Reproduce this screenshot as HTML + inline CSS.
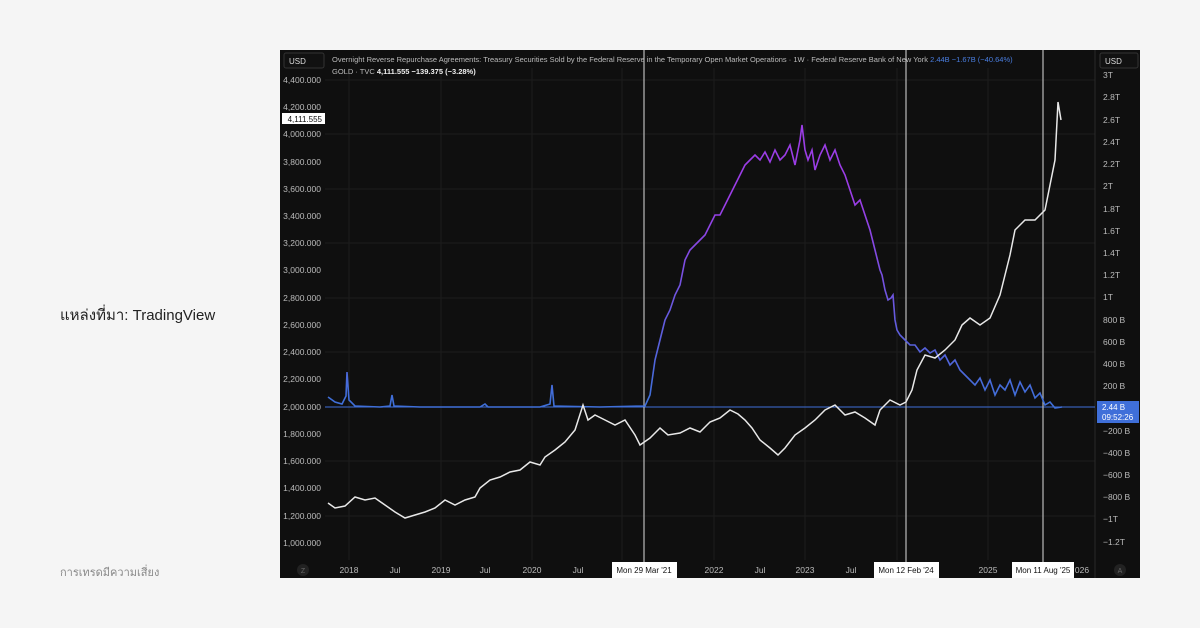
<!DOCTYPE html>
<html><head><meta charset="utf-8"><style>
body{margin:0;width:1200px;height:628px;background:#f5f5f5;font-family:"Liberation Sans","Noto Sans CJK SC",sans-serif;overflow:hidden;position:relative}
.t1{position:absolute;left:60px;top:303px;font-size:15px;color:#222}
.t2{position:absolute;left:60px;top:563px;font-size:11px;color:#888}
svg{position:absolute;left:280px;top:50px}
</style></head><body>
<div class="t1">แหล่งที่มา: TradingView</div>
<div class="t2">การเทรดมีความเสี่ยง</div>
<svg width="860" height="528" viewBox="280 50 860 528" font-family="Liberation Sans, sans-serif">
<defs><linearGradient id="g" gradientUnits="userSpaceOnUse" x1="0" y1="400" x2="0" y2="200"><stop offset="0" stop-color="#3f6fd9"/><stop offset="1" stop-color="#9b3de6"/></linearGradient></defs>
<rect x="280" y="50" width="860" height="528" fill="#0f0f0f"/>
<g stroke="#1c1c1c" stroke-width="1">
<line x1="349" y1="68" x2="349" y2="560"/><line x1="441" y1="68" x2="441" y2="560"/><line x1="532" y1="68" x2="532" y2="560"/><line x1="622" y1="68" x2="622" y2="560"/><line x1="714" y1="68" x2="714" y2="560"/><line x1="805" y1="68" x2="805" y2="560"/><line x1="897" y1="68" x2="897" y2="560"/><line x1="988" y1="68" x2="988" y2="560"/>
<line x1="325" y1="80" x2="1095" y2="80"/><line x1="325" y1="134" x2="1095" y2="134"/><line x1="325" y1="189" x2="1095" y2="189"/><line x1="325" y1="243" x2="1095" y2="243"/><line x1="325" y1="298" x2="1095" y2="298"/><line x1="325" y1="352" x2="1095" y2="352"/><line x1="325" y1="461" x2="1095" y2="461"/><line x1="325" y1="516" x2="1095" y2="516"/>
</g>
<line x1="1095" y1="50" x2="1095" y2="578" stroke="#2a2a2a"/>
<line x1="325" y1="407" x2="1095" y2="407" stroke="#3f6fd9" stroke-width="1"/>
<g stroke="#bbb" stroke-width="1.2"><line x1="644" y1="50" x2="644" y2="562"/><line x1="906" y1="50" x2="906" y2="562"/><line x1="1043" y1="50" x2="1043" y2="562"/></g>
<polyline fill="none" stroke="url(#g)" stroke-width="1.6" points="328,397 335,402 342,404 346,396 347,372 349,400 355,406 380,407 390,406 392,395 394,406 420,407 480,407 485,404 488,407 540,407 550,404 552,385 554,406 600,407 645,406 650,395 655,360 660,340 665,320 670,310 675,295 680,285 685,260 690,250 695,245 700,240 705,235 710,225 715,215 720,215 725,205 730,195 735,185 740,175 745,165 750,160 755,155 760,160 765,152 770,162 775,150 780,160 785,155 790,145 795,165 800,140 802,125 805,150 808,160 812,150 815,170 820,155 825,145 830,160 835,150 840,165 845,175 850,190 855,205 860,200 865,215 870,230 875,250 880,270 882,275 885,290 888,300 891,298 893,295 895,320 897,330 900,335 905,340 910,345 915,345 920,352 925,348 930,353 935,350 940,360 945,355 950,365 955,360 960,370 965,375 970,380 975,385 980,378 985,390 990,380 995,395 1000,385 1005,390 1010,380 1015,395 1020,382 1025,392 1030,385 1035,398 1040,393 1045,405 1050,402 1055,408 1062,407"/>
<polyline fill="none" stroke="#e8e8e8" stroke-width="1.5" points="328,503 335,508 345,506 355,497 365,500 375,498 385,505 395,512 405,518 415,515 425,512 435,508 445,500 455,505 465,500 475,497 480,488 490,480 500,477 510,472 520,470 530,462 540,465 545,457 555,450 565,442 575,430 583,405 588,420 595,415 605,420 615,425 625,420 635,435 640,445 650,438 660,428 668,435 680,433 690,428 700,432 710,422 720,418 730,410 738,414 745,420 752,428 760,440 770,448 778,455 785,448 795,435 805,428 815,420 825,410 835,405 845,415 855,412 865,418 875,425 880,410 890,400 900,405 906,402 912,390 917,370 925,355 935,358 945,350 955,340 962,325 970,318 980,325 990,318 1000,295 1010,255 1015,230 1025,220 1035,220 1045,210 1050,185 1055,160 1058,102 1061,120"/>
<g fill="#bbb" font-size="8.5" text-anchor="end">
<text x="321" y="83">4,400.000</text><text x="321" y="110">4,200.000</text><text x="321" y="137">4,000.000</text><text x="321" y="165">3,800.000</text><text x="321" y="192">3,600.000</text><text x="321" y="219">3,400.000</text><text x="321" y="246">3,200.000</text><text x="321" y="273">3,000.000</text><text x="321" y="301">2,800.000</text><text x="321" y="328">2,600.000</text><text x="321" y="355">2,400.000</text><text x="321" y="382">2,200.000</text><text x="321" y="410">2,000.000</text><text x="321" y="437">1,800.000</text><text x="321" y="464">1,600.000</text><text x="321" y="491">1,400.000</text><text x="321" y="519">1,200.000</text><text x="321" y="546">1,000.000</text>
</g>
<g fill="#bbb" font-size="8.5">
<text x="1103" y="78">3T</text><text x="1103" y="100">2.8T</text><text x="1103" y="123">2.6T</text><text x="1103" y="145">2.4T</text><text x="1103" y="167">2.2T</text><text x="1103" y="189">2T</text><text x="1103" y="212">1.8T</text><text x="1103" y="234">1.6T</text><text x="1103" y="256">1.4T</text><text x="1103" y="278">1.2T</text><text x="1103" y="300">1T</text><text x="1103" y="323">800 B</text><text x="1103" y="345">600 B</text><text x="1103" y="367">400 B</text><text x="1103" y="389">200 B</text><text x="1103" y="434">−200 B</text><text x="1103" y="456">−400 B</text><text x="1103" y="478">−600 B</text><text x="1103" y="500">−800 B</text><text x="1103" y="522">−1T</text><text x="1103" y="545">−1.2T</text>
</g>
<g fill="#bbb" font-size="8.5" text-anchor="middle">
<text x="349" y="573">2018</text><text x="395" y="573">Jul</text><text x="441" y="573">2019</text><text x="485" y="573">Jul</text><text x="532" y="573">2020</text><text x="578" y="573">Jul</text><text x="714" y="573">2022</text><text x="760" y="573">Jul</text><text x="805" y="573">2023</text><text x="851" y="573">Jul</text><text x="988" y="573">2025</text><text x="1082" y="573">026</text>
</g>
<circle cx="303" cy="570" r="6" fill="#222"/><text x="303" y="573" fill="#666" font-size="7" text-anchor="middle">Z</text>
<circle cx="1120" cy="570" r="6" fill="#222"/><text x="1120" y="573" fill="#666" font-size="7" text-anchor="middle">A</text>
<g font-size="8" text-anchor="middle"><rect x="612" y="562" width="65" height="16" fill="#fff"/><text x="644" y="573" fill="#111">Mon 29 Mar '21</text>
<rect x="874" y="562" width="65" height="16" fill="#fff"/><text x="906" y="573" fill="#111">Mon 12 Feb '24</text>
<rect x="1012" y="562" width="62" height="16" fill="#fff"/><text x="1043" y="573" fill="#111">Mon 11 Aug '25</text></g>
<rect x="284" y="53" width="40" height="15" rx="2" fill="#111" stroke="#333"/><text x="289" y="64" fill="#ddd" font-size="8">USD</text>
<rect x="1100" y="53" width="38" height="15" rx="2" fill="#111" stroke="#333"/><text x="1105" y="64" fill="#ddd" font-size="8">USD</text>
<text x="332" y="62" fill="#bbb" font-size="7.5">Overnight Reverse Repurchase Agreements: Treasury Securities Sold by the Federal Reserve in the Temporary Open Market Operations · 1W · Federal Reserve Bank of New York <tspan fill="#4a7ee0">2.44B  −1.67B (−40.64%)</tspan></text>
<text x="332" y="74" fill="#bbb" font-size="7.5">GOLD · TVC  <tspan fill="#eee" font-weight="bold">4,111.555  −139.375 (−3.28%)</tspan></text>
<rect x="282" y="113" width="43" height="11" fill="#fff"/><text x="322" y="122" fill="#111" font-size="8" text-anchor="end">4,111.555</text>
<rect x="1097" y="401" width="42" height="22" fill="#3f6fd9"/><text x="1102" y="410" fill="#fff" font-size="8">2.44 B</text><text x="1102" y="420" fill="#fff" font-size="8">09:52:26</text>
</svg>
</body></html>
